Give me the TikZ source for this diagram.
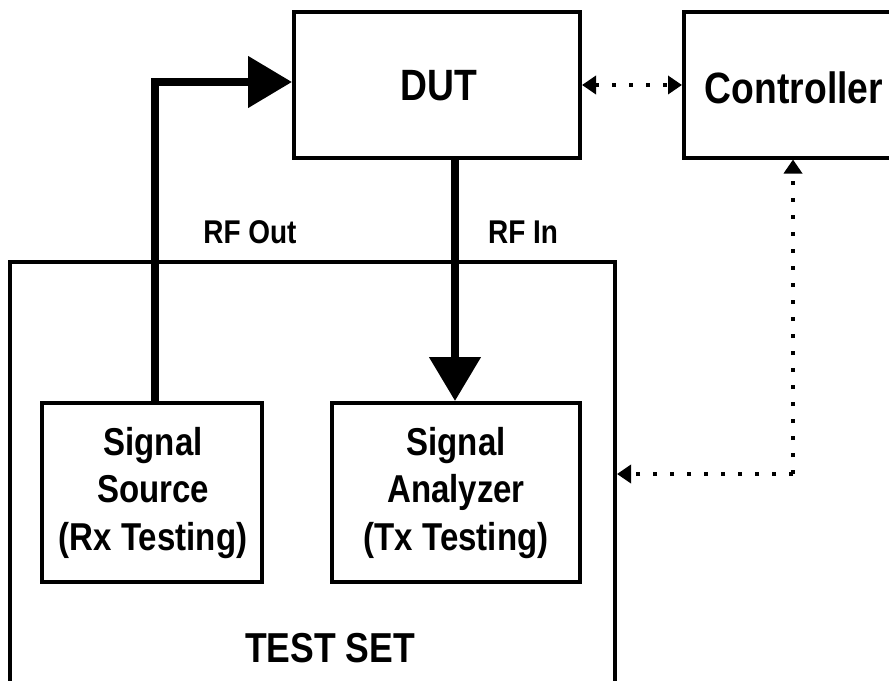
\documentclass[tikz,border=0pt]{standalone}
\usepackage{fontspec}
\setmainfont{Liberation Sans}[FakeStretch=0.85]
\usetikzlibrary{arrows.meta}
\begin{document}
\begin{tikzpicture}[x=1bp,y=-1bp,
  box/.style={draw,line width=4bp,inner sep=0pt,align=center,font=\bfseries},
  thick arrow/.style={line width=8bp,-{Triangle[length=44bp,width=50bp]}},
  dotline/.style={line width=4bp,dash pattern=on 4bp off 13bp,{Triangle[length=14bp,width=18bp]}-{Triangle[length=14bp,width=18bp]}},
  dotarrow/.style={line width=4bp,dash pattern=on 4bp off 13bp,-{Triangle[length=14bp,width=18bp]}},
  lbl/.style={font=\bfseries\fontsize{33}{36}\selectfont}]
\useasboundingbox (0,0) rectangle (889,681);
\clip (0,0) rectangle (889,681);
% boxes
\node[box,minimum width=286bp,minimum height=145bp] (dut) at (437,85) {};
\node[font=\bfseries\fontsize{44}{48}\selectfont] (duttxt) at (439,86) {DUT};
\node[box,minimum width=230bp,minimum height=145bp] (ctrl) at (799,85) {};
\node[font=\bfseries\fontsize{44}{48}\selectfont] (ctrltxt) at (794,88) {Controller};
\node[box,minimum width=605bp,minimum height=460bp] (ts) at (312.5,492) {};
\node[font=\bfseries\fontsize{42}{46}\selectfont] (tstxt) at (330,648) {TEST SET};
\node[box,minimum width=220bp,minimum height=179bp] (src) at (152,492.5) {};
\node[align=center,font=\bfseries\fontsize{39}{48}\selectfont] (srctxt) at (153,493) {Signal\\Source\\(Rx Testing)};
\node[box,minimum width=248bp,minimum height=179bp] (ana) at (456,492.5) {};
\node[align=center,font=\bfseries\fontsize{39}{48}\selectfont] (anatxt) at (456,493) {Signal\\Analyzer\\(Tx Testing)};
% labels
\node[lbl] (rfout) at (250,232) {RF Out};
\node[lbl] (rfin) at (523,232) {RF In};
% connectors
\draw[thick arrow] (src.north -| 155,0) |- (dut.west |- 0,82);
\draw[thick arrow] (dut.south -| 455,0) -- (ana.north -| 455,0);
\draw[dotline] (dut.east |- 0,85) -- (ctrl.west |- 0,85);
\coordinate (corner) at (793,474);
\draw[dotarrow] (corner) -- (ctrl.south -| corner);
\draw[dotarrow] (corner) -- (ts.east |- corner);
\end{tikzpicture}
\end{document}
